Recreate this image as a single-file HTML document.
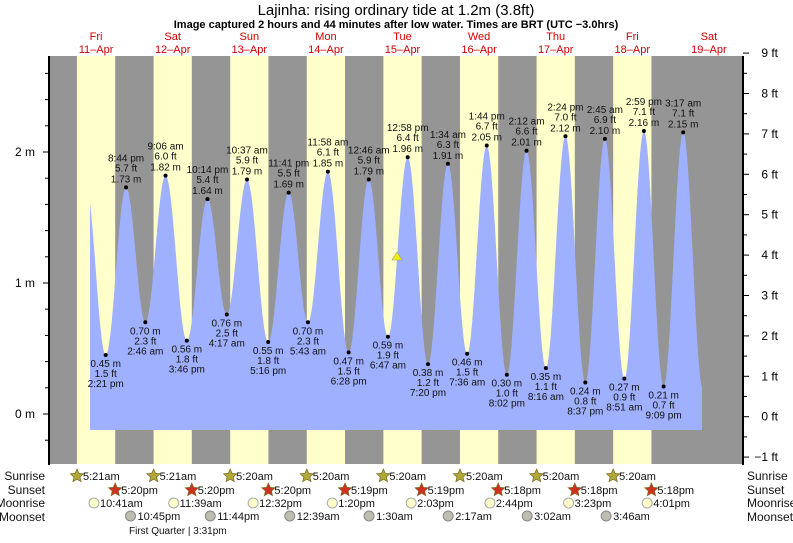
<!DOCTYPE html>
<html><head><meta charset="utf-8">
<style>
body{margin:0;background:#fff;width:793px;height:538px;overflow:hidden;font-family:"Liberation Sans",sans-serif}
svg text{font-family:"Liberation Sans",sans-serif}
</style></head><body>
<svg id="s" width="793" height="538" xmlns="http://www.w3.org/2000/svg">
<text x="396" y="15" font-size="15" text-anchor="middle" fill="#000">Lajinha: rising  ordinary tide at 1.2m (3.8ft)</text>
<text x="396" y="28" font-size="11" font-weight="bold" text-anchor="middle" fill="#000">Image captured 2 hours and 44 minutes after low water. Times are BRT (UTC −3.0hrs)</text>
<rect x="49" y="56" width="694" height="408" fill="#959595"/>
<g id="bands"></g>
<path id="tide" fill="#9fb0ff"/>
<g id="lab" font-size="10" text-anchor="middle" fill="#111"></g>
<polygon points="397,252 392,260 402,260" fill="#f0f000" stroke="#999" stroke-width="0.6"/>
<line x1="49" y1="56" x2="49" y2="465" stroke="#000" stroke-width="2"/>
<line x1="743" y1="56" x2="743" y2="465" stroke="#000" stroke-width="2"/>
<g id="ax" font-size="12" fill="#000"></g>
<g id="bot" font-size="11" fill="#111"></g>
</svg>
<script>
var NS="http://www.w3.org/2000/svg";
function el(p,t,a,txt){var e=document.createElementNS(NS,t);for(var k in a)e.setAttribute(k,a[k]);if(txt!=null)e.textContent=txt;document.getElementById(p).appendChild(e);return e;}
var X0=59.9,PH=76.6/24;
function X(h){return X0+h*PH}
function Y(m){return 414-m*131}
var days=["Fri|11–Apr","Sat|12–Apr","Sun|13–Apr","Mon|14–Apr","Tue|15–Apr","Wed|16–Apr","Thu|17–Apr","Fri|18–Apr","Sat|19–Apr"];
for(var d=0;d<9;d++){var xs=X(d*24+5.35),xe=X(d*24+17.33);
 if(d<8)el("bands","rect",{x:xs,y:56,width:xe-xs,height:408,fill:"#ffffcc"});
 var cx=(xs+xe)/2,p=days[d].split("|");
 el("ax","text",{x:cx,y:40,"text-anchor":"middle",fill:"#d00000","font-size":"11"},p[0]);
 el("ax","text",{x:cx,y:53,"text-anchor":"middle",fill:"#d00000","font-size":"11"},p[1]);
}
var ex=[[8.1,1.75],[14+21/60,.45],[20+44/60,1.73],[24+2+46/60,.70],[24+9.1,1.82],[24+15+46/60,.56],[24+22+14/60,1.64],[48+4+17/60,.76],[48+10+37/60,1.79],[48+17+16/60,.55],[48+23+41/60,1.69],[72+5+43/60,.70],[72+11+58/60,1.85],[72+18+28/60,.47],[96+46/60,1.79],[96+6+47/60,.59],[96+12+58/60,1.96],[96+19+20/60,.38],[120+1+34/60,1.91],[120+7+36/60,.46],[120+13+44/60,2.05],[120+20+2/60,.30],[144+2+12/60,2.01],[144+8+16/60,.35],[144+14+24/60,2.12],[144+20+37/60,.24],[168+2+45/60,2.10],[168+8+51/60,.27],[168+14+59/60,2.16],[168+21+9/60,.21],[192+3+17/60,2.15],[192+9.4,.2]];
var x1=90,x2=702,yb=430,d="M"+x1+","+yb;
for(var x=x1;x<=x2;x+=0.5){var h=(x-X0)/PH,m=0;
 for(var i=0;i<ex.length-1;i++){if(h>=ex[i][0]&&h<=ex[i+1][0]){var f=(h-ex[i][0])/(ex[i+1][0]-ex[i][0]);m=ex[i][1]+(ex[i+1][1]-ex[i][1])*(1-Math.cos(Math.PI*f))/2;break;}}
 d+=" L"+x.toFixed(1)+","+Y(m).toFixed(1);}
d+=" L"+x2+","+yb+" Z";document.getElementById("tide").setAttribute("d",d);
var lbl=[["8:44 pm","5.7 ft"],["0.70 m","2.3 ft","2:46 am"],["9:06 am","6.0 ft"],["0.56 m","1.8 ft","3:46 pm"],["10:14 pm","5.4 ft"],["0.76 m","2.5 ft","4:17 am"],["10:37 am","5.9 ft"],["0.55 m","1.8 ft","5:16 pm"],["11:41 pm","5.5 ft"],["0.70 m","2.3 ft","5:43 am"],["11:58 am","6.1 ft"],["0.47 m","1.5 ft","6:28 pm"],["12:46 am","5.9 ft"],["0.59 m","1.9 ft","6:47 am"],["12:58 pm","6.4 ft"],["0.38 m","1.2 ft","7:20 pm"],["1:34 am","6.3 ft"],["0.46 m","1.5 ft","7:36 am"],["1:44 pm","6.7 ft"],["0.30 m","1.0 ft","8:02 pm"],["2:12 am","6.6 ft"],["0.35 m","1.1 ft","8:16 am"],["2:24 pm","7.0 ft"],["0.24 m","0.8 ft","8:37 pm"],["2:45 am","6.9 ft"],["0.27 m","0.9 ft","8:51 am"],["2:59 pm","7.1 ft"],["0.21 m","0.7 ft","9:09 pm"],["3:17 am","7.1 ft"]];
el("lab","circle",{cx:X(ex[1][0]),cy:Y(.45),r:2,fill:"#000"});
el("lab","text",{x:X(ex[1][0]),y:Y(.45)+12},"0.45 m");el("lab","text",{x:X(ex[1][0]),y:Y(.45)+22},"1.5 ft");el("lab","text",{x:X(ex[1][0]),y:Y(.45)+32},"2:21 pm");
for(var i=0;i<lbl.length;i++){var e=ex[i+2],x=X(e[0]),y=Y(e[1]),l=lbl[i];
 el("lab","circle",{cx:x,cy:y,r:2,fill:"#000"});
 if(l.length==2){el("lab","text",{x:x,y:y-26},l[0]);el("lab","text",{x:x,y:y-16},l[1]);el("lab","text",{x:x,y:y-5},e[1].toFixed(2)+" m");}
 else{el("lab","text",{x:x,y:y+12},l[0]);el("lab","text",{x:x,y:y+22},l[1]);el("lab","text",{x:x,y:y+32},l[2]);}
}
for(var m=-0.2;m<=2.61;m+=0.2){var y=Y(m);if(y<57)continue;var maj=Math.abs(m-Math.round(m))<0.01;
 el("ax","line",{x1:maj?43:45,y1:y,x2:49,y2:y,stroke:"#000"});
 if(maj)el("ax","text",{x:35,y:y+4,"text-anchor":"end"},Math.round(m)+" m");}
for(var f=-1;f<=9;f+=0.5){var y=416.7-f*40.4;var maj=f%1==0;
 el("ax","line",{x1:743,y1:y,x2:maj?749:747,y2:y,stroke:"#000"});
 if(maj)el("ax","text",{x:778,y:y+4,"text-anchor":"end"},(f<0?"−1":f)+" ft");}
var rows=[["Sunrise",476],["Sunset",490],["Moonrise",503],["Moonset",517]];
rows.forEach(function(r){el("bot","text",{x:45,y:r[1]+4,"text-anchor":"end","font-size":"12"},r[0]);el("bot","text",{x:747,y:r[1]+4,"font-size":"12"},r[0]);});
function star(cx,cy,fill){var p="";for(var k=0;k<10;k++){var a=Math.PI/2+k*Math.PI/5,rr=k%2?3.2:7;p+=(cx+rr*Math.cos(a)).toFixed(1)+","+(cy-rr*Math.sin(a)).toFixed(1)+" ";}el("bot","polygon",{points:p,fill:fill,stroke:"#7a6a20","stroke-width":"0.7"});}
var sr=["5:21am","5:21am","5:20am","5:20am","5:20am","5:20am","5:20am","5:20am"],ss=["5:20pm","5:20pm","5:20pm","5:19pm","5:19pm","5:18pm","5:18pm","5:18pm"];
for(var d=0;d<8;d++){var a=X(d*24+5.35),b=X(d*24+17.33);
 star(a,476,"#b0a838");el("bot","text",{x:a+6,y:480},sr[d]);
 star(b,490,"#d03020");el("bot","text",{x:b+6,y:494},ss[d]);}
var mr=[[10+41/60,"10:41am"],[24+11+39/60,"11:39am"],[48+12+32/60,"12:32pm"],[72+13+20/60,"1:20pm"],[96+14+3/60,"2:03pm"],[120+14+44/60,"2:44pm"],[144+15+23/60,"3:23pm"],[168+16+1/60,"4:01pm"]];
mr.forEach(function(m){var x=X(m[0]);el("bot","circle",{cx:x,cy:503,r:5,fill:"#ffffcc",stroke:"#aaa"});el("bot","text",{x:x+6,y:507},m[1]);});
var ms=[[22.75,"10:45pm"],[24+23+44/60,"11:44pm"],[72+39/60,"12:39am"],[96+1.5,"1:30am"],[120+2+17/60,"2:17am"],[144+3+2/60,"3:02am"],[168+3+46/60,"3:46am"]];
ms.forEach(function(m){var x=X(m[0])-2;el("bot","circle",{cx:x,cy:516,r:5,fill:"#c0bcb0",stroke:"#888"});el("bot","text",{x:x+7,y:520},m[1]);});
el("bot","text",{x:129,y:534,"font-size":"10"},"First Quarter | 3:31pm");
</script>
</body></html>
